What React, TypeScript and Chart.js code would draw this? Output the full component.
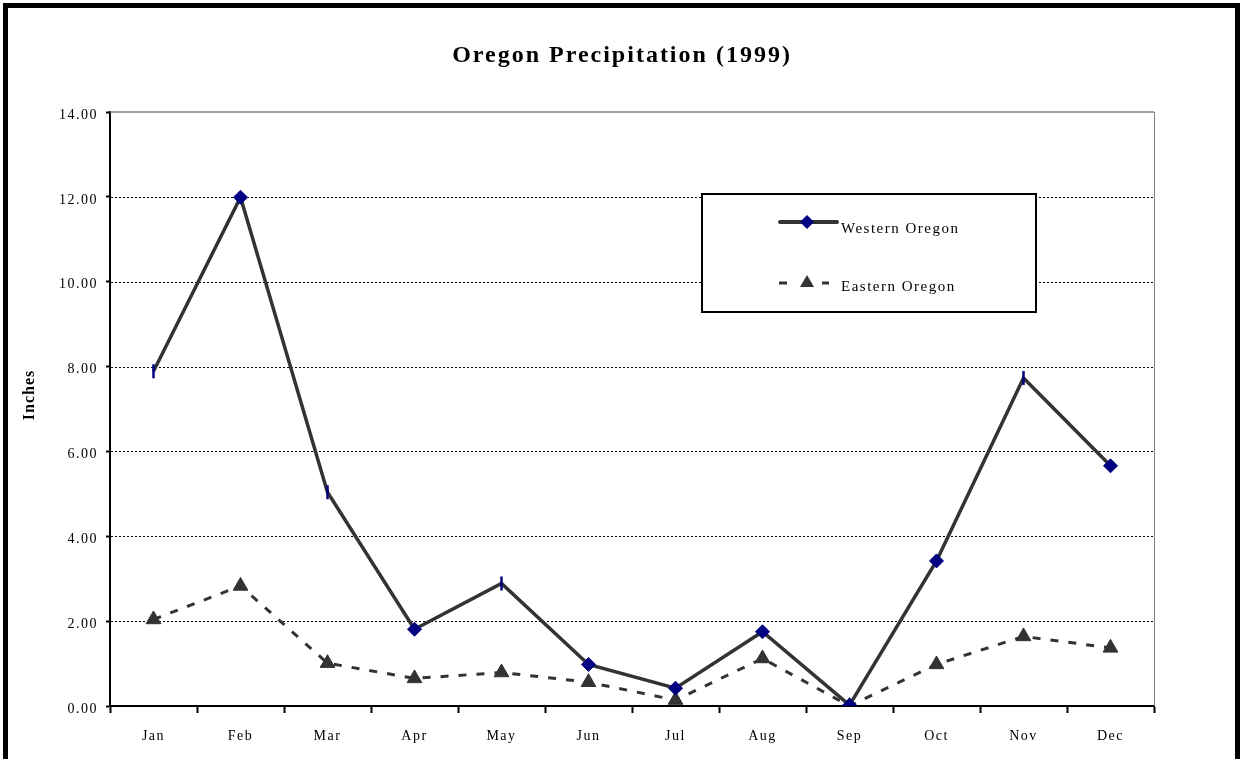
import React, { useEffect, useRef } from 'react';
import { Chart, registerables } from 'chart.js';

Chart.register(...registerables);

const months = ['Jan', 'Feb', 'Mar', 'Apr', 'May', 'Jun', 'Jul', 'Aug', 'Sep', 'Oct', 'Nov', 'Dec'];
const westernOregon = [7.89, 11.99, 5.04, 1.81, 2.89, 0.98, 0.42, 1.75, 0.02, 3.42, 7.73, 5.66];
const easternOregon = [2.04, 2.83, 1.01, 0.65, 0.79, 0.56, 0.14, 1.12, 0.0, 0.98, 1.64, 1.37];
const yTickValues = [0, 2, 4, 6, 8, 10, 12, 14];
const chartTitle = 'Oregon Precipitation (1999)';
const yAxisTitle = 'Inches';
const seriesNames = ['Western Oregon', 'Eastern Oregon'];

const SERIF = "'Liberation Serif', 'Times New Roman', serif";
const LINE = '#333333';
const NAVY = '#000080';

const decorPlugin = {
  id: 'decor',
  beforeUpdate(chart: any) {
    chart.ctx.letterSpacing = '1.5px';
  },
  beforeDraw(chart: any) {
    chart.ctx.letterSpacing = '1.5px';
  },
  beforeDatasetsDraw(chart: any) {
    const { ctx, chartArea } = chart;
    const { left, right, top, bottom } = chartArea;
    const yScale = chart.scales.y;
    ctx.save();
    // dotted gridlines
    ctx.strokeStyle = '#000';
    ctx.lineWidth = 1;
    ctx.setLineDash([2, 2]);
    yTickValues.forEach((v) => {
      if (v === 0 || v === 14) return;
      const y = Math.round(yScale.getPixelForValue(v)) + 0.5;
      ctx.beginPath();
      ctx.moveTo(left + 1, y);
      ctx.lineTo(right, y);
      ctx.stroke();
    });
    ctx.setLineDash([]);
    ctx.strokeStyle = '#808080';
    ctx.lineWidth = 1.5;
    ctx.beginPath();
    ctx.moveTo(left, top);
    ctx.lineTo(right, top);
    ctx.stroke();
    ctx.lineWidth = 1;
    ctx.beginPath();
    ctx.moveTo(Math.round(right) + 0.5, top);
    ctx.lineTo(Math.round(right) + 0.5, bottom);
    ctx.stroke();
    ctx.restore();
  },
  afterDraw(chart: any) {
    const { ctx, chartArea } = chart;
    ctx.save();
    // title
    ctx.letterSpacing = '2px';
    ctx.fillStyle = '#000';
    ctx.font = `bold 24px ${SERIF}`;
    ctx.textAlign = 'center';
    ctx.textBaseline = 'middle';
    ctx.fillText(chartTitle, 622, 56);
    // y axis title
    ctx.letterSpacing = '1px';
    ctx.font = `bold 16px ${SERIF}`;
    ctx.translate(30, (chartArea.top + chartArea.bottom) / 2 - 14);
    ctx.rotate(-Math.PI / 2);
    ctx.fillText(yAxisTitle, 0, 0);
    ctx.restore();

    // legend box
    ctx.save();
    ctx.letterSpacing = '1.5px';
    ctx.fillStyle = '#fff';
    ctx.fillRect(702, 194, 334, 118);
    ctx.strokeStyle = '#000';
    ctx.lineWidth = 2;
    ctx.strokeRect(702, 194, 334, 118);

    const ds0 = chart.data.datasets[0];
    const ds1 = chart.data.datasets[1];
    // western
    ctx.strokeStyle = ds0.borderColor;
    ctx.lineWidth = 4;
    ctx.lineCap = 'round';
    ctx.beginPath();
    ctx.moveTo(780, 222);
    ctx.lineTo(837, 222);
    ctx.stroke();
    ctx.fillStyle = NAVY;
    ctx.beginPath();
    ctx.moveTo(807, 215);
    ctx.lineTo(814, 222);
    ctx.lineTo(807, 229);
    ctx.lineTo(800, 222);
    ctx.closePath();
    ctx.fill();
    // eastern
    ctx.strokeStyle = ds1.borderColor;
    ctx.lineWidth = 3;
    ctx.lineCap = 'butt';
    ctx.beginPath();
    ctx.moveTo(779, 283);
    ctx.lineTo(787, 283);
    ctx.moveTo(822, 283);
    ctx.lineTo(829, 283);
    ctx.stroke();
    ctx.fillStyle = LINE;
    ctx.beginPath();
    ctx.moveTo(807, 275);
    ctx.lineTo(814, 287);
    ctx.lineTo(800, 287);
    ctx.closePath();
    ctx.fill();

    ctx.fillStyle = '#000';
    ctx.font = `15px ${SERIF}`;
    ctx.textAlign = 'left';
    ctx.textBaseline = 'middle';
    ctx.fillText(seriesNames[0], 841, 229);
    ctx.fillText(seriesNames[1], 841, 287);
    ctx.restore();
  },
};

export default function App() {
  const ref = useRef<HTMLCanvasElement>(null);

  useEffect(() => {
    const canvas = ref.current;
    if (!canvas) return;
    const chart = new Chart(canvas, {
      type: 'line',
      data: {
        labels: months,
        datasets: [
          {
            label: seriesNames[0],
            data: westernOregon,
            borderColor: LINE,
            borderWidth: 3.5,
            backgroundColor: NAVY,
            pointBackgroundColor: NAVY,
            pointBorderColor: NAVY,
            pointBorderWidth: (c: any) => ([0, 2, 4, 10].includes(c.dataIndex) ? 2.5 : 1),
            pointRadius: 7,
            pointStyle: (c: any) => ([0, 2, 4, 10].includes(c.dataIndex) ? 'line' : 'rectRot'),
            pointRotation: (c: any) => ([0, 2, 4, 10].includes(c.dataIndex) ? 90 : 0),
            tension: 0,
            fill: false,
          },
          {
            label: seriesNames[1],
            data: easternOregon,
            borderColor: LINE,
            borderWidth: 3,
            borderDash: [8, 10],
            backgroundColor: LINE,
            pointBackgroundColor: LINE,
            pointBorderColor: LINE,
            pointBorderWidth: 1,
            pointRadius: 8.5,
            pointStyle: 'triangle',
            tension: 0,
            fill: false,
          },
        ],
      },
      options: {
        responsive: false,
        animation: false,
        devicePixelRatio: 1,
        layout: { padding: { left: 0, top: 112, right: 86, bottom: 0 } },
        plugins: {
          legend: { display: false },
          title: { display: false },
          tooltip: { enabled: false },
        },
        scales: {
          x: {
            type: 'category',
            offset: true,
            grid: {
              offset: true,
              drawOnChartArea: false,
              drawTicks: true,
              tickLength: 7,
              tickColor: '#000',
              tickWidth: 2,
            },
            border: { display: true, color: '#000', width: 2 },
            ticks: {
              color: '#000',
              font: { family: SERIF, size: 14 },
              padding: 15,
              maxRotation: 0,
              autoSkip: false,
            },
            afterFit: (s: any) => {
              s.height = 53;
            },
          },
          y: {
            min: 0,
            max: 14,
            afterBuildTicks: (s: any) => {
              s.ticks = yTickValues.map((v) => ({ value: v }));
            },
            ticks: {
              color: '#000',
              font: { family: SERIF, size: 14 },
              padding: 8,
              labelOffset: 3,
              callback: (v: any) => Number(v).toFixed(2),
            },
            grid: {
              drawOnChartArea: false,
              color: '#000',
              lineWidth: 1,
              tickLength: 4,
              tickColor: '#000',
              tickWidth: 2,
            },
            border: { display: true, color: '#000', width: 2 },
            afterFit: (s: any) => {
              s.width = 110;
            },
          },
        },
      },
      plugins: [decorPlugin],
    } as any);
    return () => chart.destroy();
  }, []);

  return (
    <div
      style={{
        position: 'fixed',
        left: 0,
        top: 0,
        width: 1240,
        height: 759,
        overflow: 'hidden',
        background: '#fff',
      }}
    >
      <div
        style={{
          position: 'absolute',
          left: 3,
          top: 3,
          width: 1237,
          height: 820,
          border: '5px solid #000',
          boxSizing: 'border-box',
        }}
      />
      <canvas
        ref={ref}
        width={1240}
        height={759}
        style={{ position: 'absolute', left: 0, top: 0, width: 1240, height: 759 }}
      />
    </div>
  );
}
